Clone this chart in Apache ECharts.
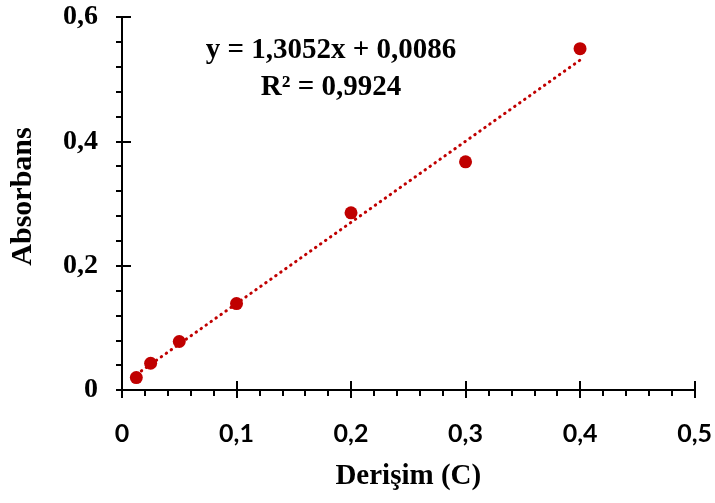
<!DOCTYPE html>
<html>
<head>
<meta charset="utf-8">
<script src="https://cdn.jsdelivr.net/npm/echarts@6/dist/echarts.min.js"></script>
<style>
  html, body { margin: 0; padding: 0; background: #fff; }
  #chart { width: 715px; height: 503px; }
</style>
</head>
<body>
<div id="chart"></div>
<script>
// Calibration data: concentration vs absorbance
const concentration = [0.0125, 0.025, 0.05, 0.1, 0.2, 0.3, 0.4];
const absorbance = [0.020, 0.043, 0.078, 0.139, 0.285, 0.367, 0.549];

// Linear fit reported on the chart
const slope = 1.3052;
const intercept = 0.0086;
const equationText = 'y = 1,3052x + 0,0086';
const r2Text = 'R² = 0,9924';

// Axis tick labels (decimal comma)
const xTickLabels = ['0', '0,1', '0,2', '0,3', '0,4', '0,5'];
const yTickLabels = ['0', '0,2', '0,4', '0,6'];

const xTitle = 'Derişim (C)';
const yTitle = 'Absorbans';

const red = '#C00000';
const serif = '"Liberation Serif", "Times New Roman", serif';
const sans = 'Lato, "Open Sans", sans-serif';

// Fitted line spans the range of the measured concentrations
const xMin = Math.min(...concentration);
const xMax = Math.max(...concentration);
const fitLine = [[xMin, slope * xMin + intercept], [xMax, slope * xMax + intercept]];

const chart = echarts.init(document.getElementById('chart'), null, { renderer: 'canvas' });

const axisLineStyle = { color: '#000', width: 2 };

chart.setOption({
  animation: false,
  backgroundColor: '#fff',
  grid: { left: 122, right: 20, top: 17, bottom: 113, containLabel: false },
  xAxis: [
    {
      type: 'value', min: 0, max: 0.5, interval: 0.1,
      name: xTitle, nameLocation: 'middle', nameGap: 72,
      nameTextStyle: { fontFamily: serif, fontWeight: 'bold', fontSize: 29, color: '#000' },
      axisLine: { show: true, onZero: false, lineStyle: axisLineStyle },
      axisTick: { show: true, length: 8, lineStyle: axisLineStyle },
      minorTick: { show: true, splitNumber: 5, length: 6, lineStyle: axisLineStyle },
      splitLine: { show: false },
      axisLabel: {
        margin: 31, fontFamily: sans, fontWeight: 'bold', fontSize: 25, color: '#000',
        formatter: (v, i) => xTickLabels[i]
      }
    },
    {
      // inner half of the major ticks
      type: 'value', min: 0, max: 0.5, interval: 0.1, position: 'bottom',
      axisLine: { show: false },
      axisTick: { show: true, inside: true, length: 9, lineStyle: axisLineStyle },
      axisLabel: { show: false },
      splitLine: { show: false }
    }
  ],
  yAxis: [
    {
      type: 'value', min: 0, max: 0.6, interval: 0.2,
      name: yTitle, nameLocation: 'middle', nameGap: 84, nameRotate: 90,
      nameTextStyle: {
        fontFamily: serif, fontWeight: 'bold', fontSize: 30, color: '#000',
        padding: [0, 0, 0, 14]
      },
      axisLine: { show: true, onZero: false, lineStyle: axisLineStyle },
      axisTick: { show: true, length: 6, lineStyle: axisLineStyle },
      minorTick: { show: true, splitNumber: 5, length: 6, lineStyle: axisLineStyle },
      splitLine: { show: false },
      axisLabel: {
        margin: 24, fontFamily: serif, fontWeight: 'bold', fontSize: 28, color: '#000',
        formatter: (v, i) => yTickLabels[i]
      }
    },
    {
      type: 'value', min: 0, max: 0.6, interval: 0.2, position: 'left',
      axisLine: { show: false },
      axisTick: { show: true, inside: true, length: 9, lineStyle: axisLineStyle },
      axisLabel: { show: false },
      splitLine: { show: false }
    }
  ],
  series: [
    {
      name: 'fit',
      type: 'line',
      data: fitLine,
      showSymbol: false,
      symbol: 'none',
      z: 1,
      lineStyle: { color: red, width: 3, type: [0.5, 5.6], cap: 'round' },
      silent: true
    },
    {
      name: 'data',
      type: 'scatter',
      data: concentration.map((c, i) => [c, absorbance[i]]),
      symbol: 'circle',
      symbolSize: 13,
      z: 3,
      itemStyle: { color: red, opacity: 1 }
    }
  ],
  graphic: [
    {
      type: 'text',
      style: {
        text: equationText, x: 331, y: 51, align: 'center', verticalAlign: 'middle',
        font: 'bold 29px ' + serif, fill: '#000'
      }
    },
    {
      type: 'text',
      style: {
        text: r2Text, x: 331, y: 88, align: 'center', verticalAlign: 'middle',
        font: 'bold 29px ' + serif, fill: '#000'
      }
    }
  ]
});
</script>
</body>
</html>
